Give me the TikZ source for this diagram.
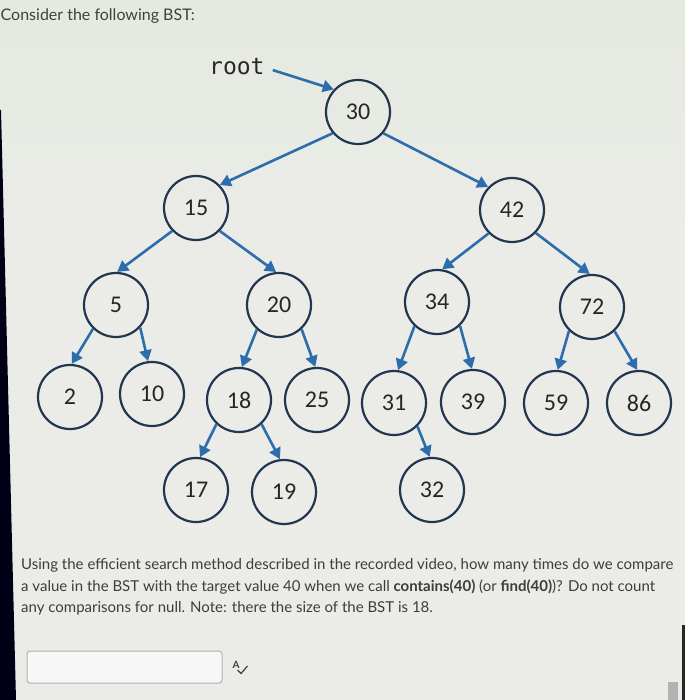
\documentclass[tikz,border=0pt]{standalone}
\usepackage{fontspec}
\setmainfont{Lato}
\newfontfamily\numfont{Carlito}
\newfontfamily\rootfont{DejaVu Sans Mono}
\usetikzlibrary{arrows.meta}
\definecolor{navy}{HTML}{22364F}
\definecolor{arrblue}{HTML}{2E6DAB}
\definecolor{txt}{HTML}{262626}
\definecolor{qtxt}{HTML}{3D3D3D}
\definecolor{bgtop}{HTML}{E4EADF}
\definecolor{bgmain}{HTML}{EBEBE8}
\begin{document}
\begin{tikzpicture}[x=1pt,y=-1pt,
  bnode/.style={circle, draw=navy, line width=2.2pt, minimum size=64pt, inner sep=0pt,
    font=\numfont\fontsize{24}{24}\selectfont, text=txt},
  arr/.style={draw=arrblue, line width=2.6pt, -{Triangle[length=11pt,width=12pt]}},
  qtext/.style={inner sep=0pt, anchor=base west, text=qtxt, font=\fontsize{15}{18}\selectfont}
]
\useasboundingbox (0,0) rectangle (685,700);
% background
\fill[bgmain] (0,0) rectangle (685,700);
\shade[top color=bgtop, bottom color=bgmain] (0,0) rectangle (685,220);
\fill[black!85!blue!60!black] (0,110) -- (1,110) -- (16,700) -- (0,700) -- cycle;
\fill[black!85] (682,625) rectangle (685,700);
\fill[black!30] (668,682) rectangle (678,700);

% title
\node[qtext, font=\fontsize{16}{18}\selectfont, text=black!75] (title) at (0.5,21) {Consider the following BST:};

% nodes
\node[bnode] (n30) at (358,112) {30};
\node[bnode] (n15) at (196,208) {15};
\node[bnode] (n42) at (512,210) {42};
\node[bnode] (n5)  at (116,305) {5};
\node[bnode] (n20) at (279,305) {20};
\node[bnode] (n34) at (437,302) {34};
\node[bnode] (n72) at (592,307) {72};
\node[bnode] (n2)  at (70,397)  {2};
\node[bnode] (n10) at (152,394) {10};
\node[bnode] (n18) at (239,400) {18};
\node[bnode] (n25) at (317,400) {25};
\node[bnode] (n31) at (394,403) {31};
\node[bnode] (n39) at (473,402) {39};
\node[bnode] (n59) at (556,403) {59};
\node[bnode] (n86) at (639,403) {86};
\node[bnode] (n17) at (196,490) {17};
\node[bnode] (n19) at (284,492) {19};
\node[bnode] (n32) at (432,490) {32};

% root label
\node[inner sep=0pt, anchor=base west, font=\rootfont\fontsize{23}{23}\selectfont, text=txt] (root) at (209,75) {root};
\draw[arr] ([xshift=8pt,yshift=-3pt]root.east) -- (n30.137);

% edges
\draw[arr] (n30.220) -- (n15.44);
\draw[arr] (n30.320) -- (n42.136);
\draw[arr] (n15.224) -- (n5.88);
\draw[arr] (n15.316) -- (n20.95);
\draw[arr] (n42.225) -- (n34.81);
\draw[arr] (n42.316) -- (n72.94);
\draw[arr] (n5.226) -- (n2.87);
\draw[arr] (n5.317) -- (n10.97);
\draw[arr] (n20.228) -- (n18.85);
\draw[arr] (n20.313) -- (n25.93);
\draw[arr] (n34.227) -- (n31.83);
\draw[arr] (n34.314) -- (n39.92);
\draw[arr] (n72.226) -- (n59.87);
\draw[arr] (n72.313) -- (n86.93);
\draw[arr] (n18.227) -- (n17.83);
\draw[arr] (n18.313) -- (n19.97);
\draw[arr] (n31.315) -- (n32.94);

% question
\node[qtext] (q1) at (21,569) {Using the efficient search method described in the recorded video, how many times do we compare};
\node[qtext] (q2) at (21,591) {a value in the BST with the target value 40 when we call \textbf{contains(40)} (or \textbf{find(40)})? Do not count};
\node[qtext] (q3) at (21,612) {any comparisons for null. Note: there the size of the BST is 18.};

% answer box
\draw[black!30, line width=1pt, fill=white!94!gray, rounded corners=3pt] (27,651) rectangle (222,683);
\node[inner sep=0pt, font=\fontsize{10}{10}\selectfont\bfseries, text=black!75] (spell) at (236,665) {A};
\draw[black!75, line width=1.2pt] (237.5,670) -- (241,673.5) -- (247.5,666);
\end{tikzpicture}
\end{document}
